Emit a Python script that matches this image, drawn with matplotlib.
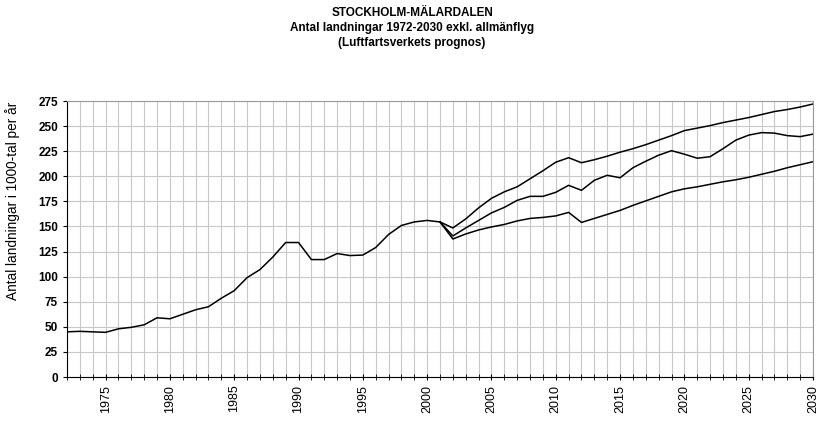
import matplotlib.pyplot as plt
import numpy as np

plt.rcParams['font.family'] = ['Liberation Sans', 'DejaVu Sans']

# Historiska landningar 1972-2001 (tusental)
hist_years = list(range(1972, 2002))
hist_vals = [45, 45.5, 45, 44.5, 48, 49.5, 52, 59, 58, 62.5, 67, 70, 78.5, 86,
             99, 107, 119.5, 134, 134, 117, 117, 123, 121, 121.5, 129, 142,
             151, 154.5, 156, 154.5]

# Prognoser 2001-2030
prog_years = list(range(2001, 2031))
prog_high = [154.5, 148.5, 157.5, 168.5, 178, 184.5, 189.5, 197.5, 205.5, 214,
             218.5, 213.5, 216.5, 220, 224, 227.5, 231.5, 236, 240.5, 245.5,
             248, 250.5, 253.5, 256, 258.5, 261.5, 264.5, 266.5, 269, 272]
prog_mid = [154.5, 140.5, 148.5, 156, 163.5, 169, 176, 180, 180, 184,
            191, 186, 196, 201, 198.5, 208.5, 215, 221, 225.5, 222,
            218, 219.5, 227.5, 236, 241, 243.5, 243, 240.5, 239.5, 242]
prog_low = [154.5, 137.5, 142.5, 146.5, 149.5, 152, 155.5, 158, 159, 160.5,
            164, 154, 158, 162, 166, 171, 175.5, 180, 184.5, 187.5,
            189.5, 192, 194.5, 196.5, 199, 202, 205, 208.5, 211.5, 214.5]

fig = plt.figure(figsize=(8.24, 4.21), dpi=100)
ax = fig.add_axes([67 / 824, 1 - 377 / 421, (813 - 67) / 824, (377 - 101) / 421])

ax.plot(hist_years, hist_vals, color="black", lw=1.1)
ax.plot(prog_years, prog_high, color="black", lw=1.1)
ax.plot(prog_years, prog_mid, color="black", lw=1.1)
ax.plot(prog_years, prog_low, color="black", lw=1.1)

ax.set_xlim(1972, 2030)
ax.set_ylim(0, 275)
ax.set_yticks(np.arange(0, 276, 25))
ax.set_xticks(np.arange(1975, 2031, 5))
ax.set_xticks(np.arange(1972, 2031, 1), minor=True)
ax.grid(True, which="both", axis="x", color="#c8c8c8", lw=0.8)
ax.grid(True, which="major", axis="y", color="#c8c8c8", lw=0.8)

for lbl in ax.get_yticklabels():
    lbl.set_fontweight("bold")
ax.tick_params(axis="y", labelsize=8.5, length=3, direction="out")
ax.tick_params(axis="x", which="both", labelsize=9, length=4, direction="inout",
               labelrotation=90)
ax.tick_params(axis="x", which="minor", length=4)

ax.spines["top"].set_color("#999999")
ax.spines["right"].set_color("#999999")
ax.spines["left"].set_color("black")
ax.spines["bottom"].set_color("black")

ax.set_ylabel("Antal landningar i 1000-tal per år", fontsize=9.8)
ax.yaxis.set_label_coords(-0.063, 0.638)

fig.text(0.5, 1 - 13 / 421, "STOCKHOLM-MÄLARDALEN", ha="center", va="center",
         fontsize=8.5, fontweight="bold")
fig.text(0.5, 1 - 28 / 421, "Antal landningar 1972-2030 exkl. allmänflyg", ha="center",
         va="center", fontsize=8.5, fontweight="bold")
fig.text(0.5, 1 - 43 / 421, "(Luftfartsverkets prognos)", ha="center", va="center",
         fontsize=8.5, fontweight="bold")

fig.savefig("out.png", dpi=100)
